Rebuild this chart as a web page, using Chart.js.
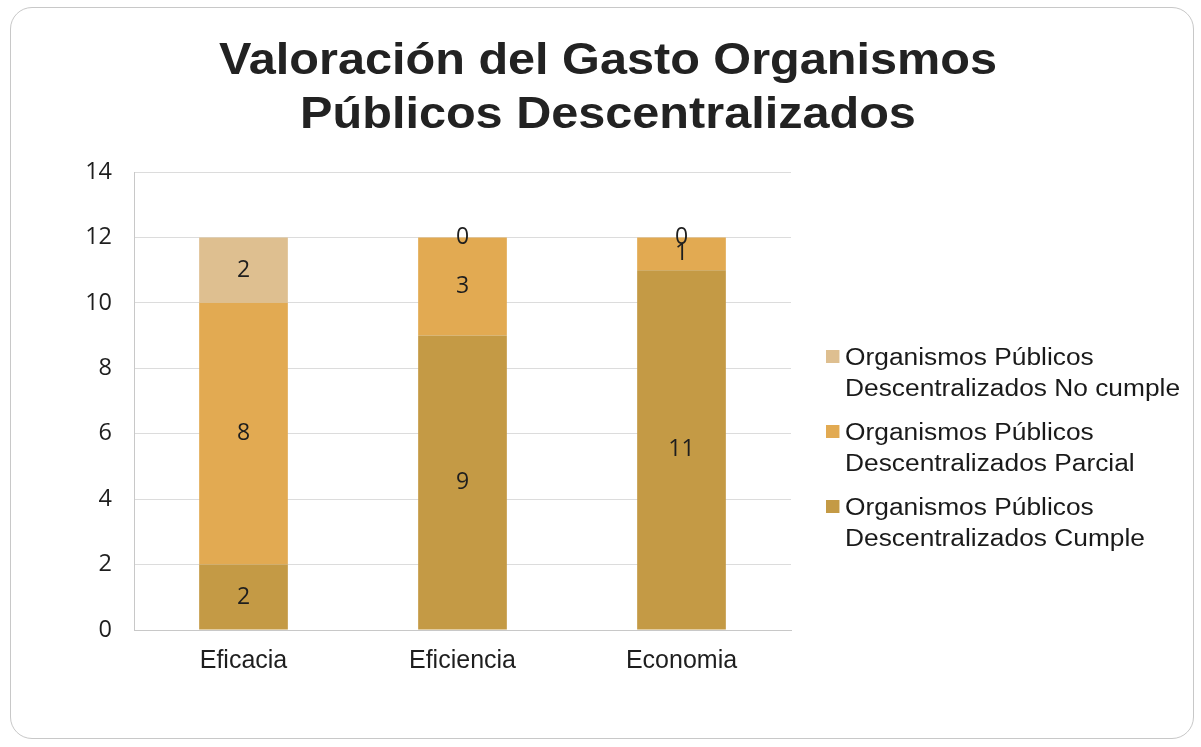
<!DOCTYPE html>
<html>
<head>
<meta charset="utf-8">
<script src="https://cdn.jsdelivr.net/npm/chart.js@4/dist/chart.umd.min.js"></script>
<style>
  html, body { margin: 0; padding: 0; background: #ffffff; }
  #wrap { position: relative; width: 1201px; height: 747px; overflow: hidden; background: #fff; }
  #frame { position: absolute; left: 10px; top: 7px; width: 1184px; height: 732px; border: 1.5px solid #c8c8c8; border-radius: 22px; box-sizing: border-box; }
  canvas { position: absolute; left: 0; top: 0; }
  #legend { position: absolute; left: 826px; top: 342px; font-family: "Liberation Sans", Arial, sans-serif; font-size: 23.5px; color: #1a1a1a; line-height: 30.5px; transform-origin: 0 0; transform: scaleX(1.12); white-space: nowrap; }
  .item { position: relative; padding-left: 17px; margin-bottom: 14px; }
  .sw { position: absolute; left: 0; top: 8px; width: 12px; height: 13px; }
</style>
</head>
<body>
<div id="wrap">
  <div id="frame"></div>
  <canvas id="c" width="1201" height="747"></canvas>
  <div id="legend"></div>
</div>
<script>
const titleLines = ["Valoración del Gasto Organismos", "Públicos Descentralizados"];
const categories = ["Eficacia", "Eficiencia", "Economia"];
const cumple = [2, 9, 11];
const parcial = [8, 3, 1];
const noCumple = [2, 0, 0];
const seriesNames = [
  ["Organismos Públicos", "Descentralizados Cumple"],
  ["Organismos Públicos", "Descentralizados Parcial"],
  ["Organismos Públicos", "Descentralizados No cumple"]
];
const yTicks = [0, 2, 4, 6, 8, 10, 12, 14];

const colors = ["#C49A45", "#E2AA52", "#DEBF90"];

const titlePlugin = {
  id: 'wideTitle',
  afterDraw(chart) {
    const ctx = chart.ctx;
    ctx.save();
    ctx.font = 'bold 45px "Liberation Sans", Arial, sans-serif';
    ctx.fillStyle = '#222222';
    ctx.textAlign = 'center';
    ctx.textBaseline = 'alphabetic';
    const cx = 608;
    const baselines = [74, 128];
    titleLines.forEach((t, i) => {
      ctx.save();
      ctx.translate(cx, baselines[i]);
      ctx.scale(1.08, 1);
      ctx.fillText(t, 0, 0);
      ctx.restore();
    });
    ctx.restore();
  }
};

const labelPlugin = {
  id: 'segLabels',
  afterDatasetsDraw(chart) {
    const ctx = chart.ctx;
    ctx.save();
    ctx.font = '23px "Open Sans", "Liberation Sans", sans-serif';
    ctx.fillStyle = '#1e1e1e';
    ctx.textAlign = 'center';
    ctx.textBaseline = 'middle';
    chart.data.datasets.forEach((ds, di) => {
      const meta = chart.getDatasetMeta(di);
      meta.data.forEach((el, i) => {
        const y = (el.y + el.base) / 2;
        ctx.fillText(String(ds.data[i]), el.x, y);
      });
    });
    ctx.restore();
  }
};

const chart = new Chart(document.getElementById('c'), {
  type: 'bar',
  data: {
    labels: categories,
    datasets: [
      { label: seriesNames[0].join(' '), data: cumple, backgroundColor: colors[0] },
      { label: seriesNames[1].join(' '), data: parcial, backgroundColor: colors[1] },
      { label: seriesNames[2].join(' '), data: noCumple, backgroundColor: colors[2] }
    ]
  },
  options: {
    responsive: false,
    animation: false,
    layout: { padding: { left: 80, right: 410, top: 172, bottom: 67 } },
    datasets: { bar: { categoryPercentage: 1.0, barPercentage: 0.405 } },
    plugins: {
      legend: { display: false },
      tooltip: { enabled: false },
      title: { display: false }
    },
    scales: {
      x: {
        stacked: true,
        grid: { display: false, drawTicks: false },
        border: { display: true, color: '#c8c8c8', width: 1 },
        ticks: { color: '#1e1e1e', padding: 16, font: { family: '"Liberation Sans", Arial, sans-serif', size: 25 } },
        afterFit(scale) { scale.height = 50; }
      },
      y: {
        stacked: true,
        min: 0, max: 14,
        afterBuildTicks(scale) { scale.ticks = yTicks.map(v => ({ value: v })); },
        grid: { color: '#dcdcdc', lineWidth: 1, drawTicks: false },
        border: { display: true, color: '#c8c8c8', width: 1 },
        ticks: { color: '#1e1e1e', padding: 22, font: { family: '"Open Sans", "Liberation Sans", sans-serif', size: 23.5 } },
        afterFit(scale) { scale.width = 54; }
      }
    }
  },
  plugins: [labelPlugin, titlePlugin]
});

// Legend built from the datasets (reversed order, as in the reference)
const legend = document.getElementById('legend');
for (let i = chart.data.datasets.length - 1; i >= 0; i--) {
  const d = document.createElement('div');
  d.className = 'item';
  const sw = document.createElement('span');
  sw.className = 'sw';
  sw.style.background = chart.data.datasets[i].backgroundColor;
  d.appendChild(sw);
  seriesNames[i].forEach((line, k) => {
    if (k) d.appendChild(document.createElement('br'));
    d.appendChild(document.createTextNode(line));
  });
  legend.appendChild(d);
}
</script>
</body>
</html>
